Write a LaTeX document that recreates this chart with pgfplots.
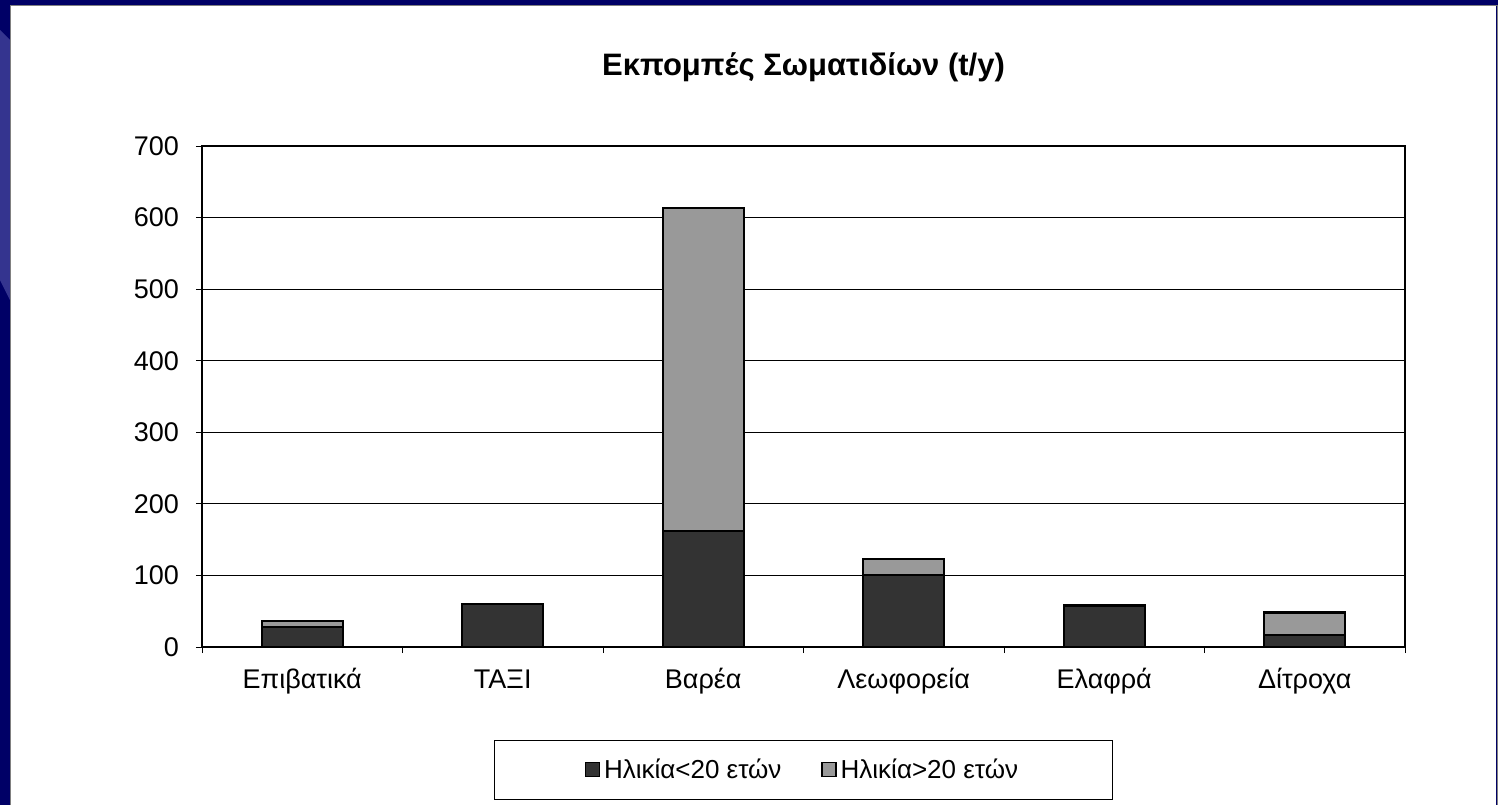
\documentclass[border=0pt]{standalone}
\usepackage{pgfplots}
\pgfplotsset{compat=1.18}
\usepackage{fontspec}
\setmainfont{Liberation Sans}
\definecolor{slidenavy}{HTML}{000066}
\definecolor{slidelight}{HTML}{34348F}
\definecolor{darkbar}{HTML}{333333}
\definecolor{graybar}{HTML}{999999}

\begin{document}
\begin{tikzpicture}
% slide background
\useasboundingbox (0,0) rectangle (749pt,402.5pt);
\fill[slidenavy] (0,0) rectangle (749pt,402.5pt);
\fill[slidelight] (0,387.5pt) -- (5pt,382.5pt) -- (5pt,252.5pt) -- (0,262.5pt) -- cycle;
\fill[white] (5pt,0) rectangle (748pt,399.5pt);
\draw[gray,line width=0.5pt] (5pt,0) -- (5pt,399.5pt) -- (748.5pt,399.5pt) -- (748.5pt,0);

\begin{axis}[
    at={(101pt,79pt)}, anchor=south west,
    scale only axis,
    width=601.5pt, height=250.5pt,
    ybar stacked,
    bar width=40.5pt,
    xmin=-0.5, xmax=5.5,
    ymin=0, ymax=700,
    ytick={0,100,...,700},
    xtick={0,...,5},
    xticklabels={Επιβατικά, ΤΑΞΙ, Βαρέα, Λεωφορεία, Ελαφρά, Δίτροχα},
    minor xtick={-0.5,0.5,...,5.5},
    major x tick style={draw=none},
    minor tick length=3pt,
    major tick length=3pt,
    tick align=outside,
    xtick pos=bottom, ytick pos=left,
    tick style={black, line width=0.5pt},
    ymajorgrids,
    grid style={black, line width=0.5pt},
    axis line style={black, line width=0.8pt},
    /pgf/number format/assume math mode=true,
    tick label style={font=\fontsize{13.5}{15}\selectfont},
    yticklabel style={xshift=-5pt},
    xticklabel style={yshift=-4pt, text height=10pt, text depth=3pt},
    title={Εκπομπές Σωματιδίων (t/y)},
    title style={font=\fontsize{15.5}{18}\selectfont\bfseries, at={(0.5,1)}, anchor=center, yshift=33.5pt},
    legend style={at={(0.5,0)}, anchor=north, yshift=-46.5pt,
        draw=black, line width=0.5pt,
        inner xsep=45pt, inner ysep=7pt,
        font=\fontsize{13}{15}\selectfont,
        legend columns=2,
        /tikz/every even column/.append style={column sep=18pt}},
    legend image code/.code={\draw[#1,line width=0.6pt] (0pt,-3.5pt) rectangle (7pt,3.5pt);},
]
\addplot[fill=darkbar, draw=black, line width=1.2pt] coordinates {(0,28) (1,60) (2,162) (3,101) (4,58) (5,17)};
\addplot[fill=graybar, draw=black, line width=1.2pt] coordinates {(0,8) (1,0.5) (2,451) (3,22) (4,0.5) (5,31)};
\legend{Ηλικία<20 ετών, Ηλικία>20 ετών}
\end{axis}
\end{tikzpicture}
\end{document}
